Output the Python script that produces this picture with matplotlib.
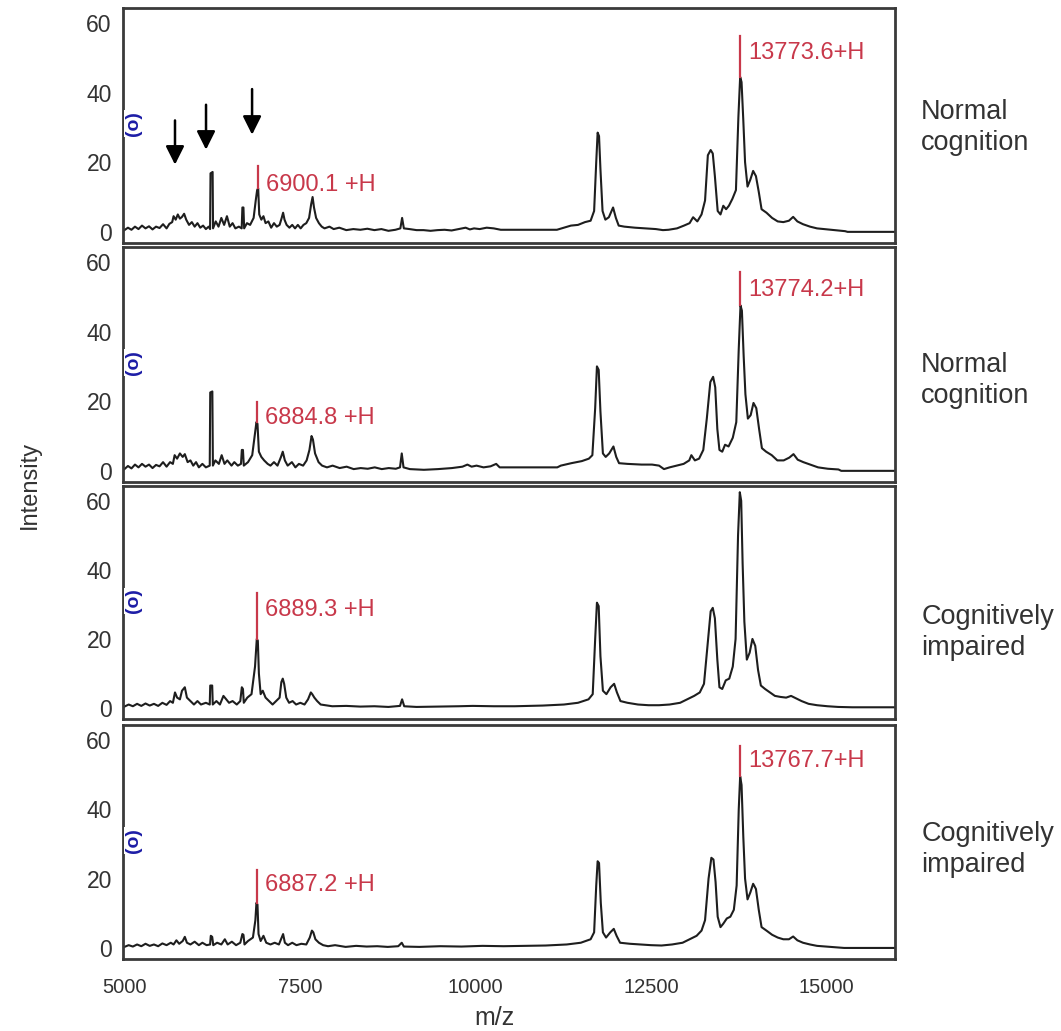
import matplotlib
matplotlib.use('Agg')
import matplotlib.pyplot as plt
import matplotlib.transforms as mtransforms

plt.rcParams['font.family'] = ['Liberation Sans', 'DejaVu Sans']

# ── data: (m/z, intensity) ──────────────────────────────────────────────────
SPEC_NC1 = [
    (5000, 0.5), (5050, 1.2), (5100, 0.6), (5150, 1.5), (5200, 0.8), (5250, 1.8), (5300, 1.0),
    (5350, 1.6), (5400, 0.7), (5450, 1.5), (5500, 1.1), (5550, 2.2), (5600, 1.0), (5640, 2.3),
    (5680, 2.8), (5700, 4.5), (5730, 3.5), (5760, 5.0), (5790, 3.8), (5820, 4.3), (5850, 5.2),
    (5880, 3.5), (5920, 2.0), (5960, 2.8), (6000, 1.5), (6040, 2.5), (6080, 1.2), (6120, 1.8),
    (6160, 0.8), (6200, 1.5), (6220, 0.8), (6226, 16.8), (6256, 17.2), (6262, 1.0), (6300, 3.0),
    (6340, 1.5), (6380, 4.0), (6420, 2.0), (6460, 4.5), (6500, 1.5), (6540, 2.5), (6580, 1.0),
    (6630, 1.5), (6670, 1.0), (6680, 7.0), (6695, 7.0), (6705, 1.0), (6745, 2.5), (6790, 2.0),
    (6840, 4.0), (6870, 9.0), (6890, 12.0), (6905, 12.5), (6920, 5.0), (6950, 3.5), (6980, 4.5),
    (7010, 2.5), (7050, 3.0), (7090, 1.2), (7130, 2.5), (7170, 1.5), (7210, 2.0), (7240, 4.0),
    (7260, 5.5), (7280, 3.5), (7310, 2.0), (7350, 1.2), (7390, 2.0), (7430, 1.0), (7470, 2.0),
    (7510, 1.0), (7550, 2.0), (7590, 2.5), (7630, 4.0), (7660, 8.0), (7680, 10.0), (7700, 7.0),
    (7730, 4.0), (7770, 2.5), (7810, 1.5), (7850, 1.0), (7920, 1.5), (7980, 0.8), (8060, 1.2),
    (8160, 0.5), (8260, 0.8), (8360, 0.6), (8460, 0.9), (8560, 0.5), (8660, 0.8), (8760, 0.3),
    (8860, 0.6), (8930, 1.0), (8955, 4.0), (8980, 1.0), (9060, 0.8), (9160, 0.5), (9260, 0.5),
    (9360, 0.3), (9460, 0.5), (9560, 0.6), (9660, 0.4), (9760, 0.8), (9860, 1.2), (9920, 0.7),
    (9980, 1.0), (10060, 0.8), (10160, 1.2), (10260, 1.0), (10360, 0.6), (11160, 0.6),
    (11260, 1.2), (11360, 1.8), (11460, 2.0), (11560, 2.8), (11640, 3.2), (11690, 6.0),
    (11720, 20.0), (11740, 28.5), (11760, 27.5), (11780, 18.0), (11810, 6.0), (11850, 3.5),
    (11900, 4.2), (11960, 7.0), (12000, 4.0), (12040, 1.8), (12120, 1.5), (12270, 1.2),
    (12420, 1.0), (12570, 0.8), (12670, 0.5), (12750, 0.6), (12870, 1.0), (12970, 1.8),
    (13050, 2.5), (13100, 4.2), (13160, 3.0), (13220, 5.0), (13270, 9.0), (13310, 22.0),
    (13350, 23.5), (13380, 22.5), (13410, 16.0), (13450, 6.0), (13490, 5.0), (13530, 7.5),
    (13570, 6.5), (13610, 7.5), (13660, 9.5), (13710, 12.0), (13745, 33.0), (13770, 44.5),
    (13790, 43.0), (13815, 32.0), (13840, 20.0), (13875, 13.0), (13915, 15.0), (13955, 17.5),
    (13995, 16.0), (14035, 11.5), (14075, 6.5), (14145, 5.5), (14225, 4.0), (14305, 3.0),
    (14385, 2.8), (14465, 3.2), (14525, 4.3), (14585, 3.0), (14665, 2.2), (14765, 1.5),
    (14865, 1.0), (14965, 0.8), (15065, 0.6), (15165, 0.4), (15265, 0.2), (15300, 0.0),
    (15975, 0.0),
]

SPEC_NC2 = [
    (5000, 0.5), (5050, 1.4), (5100, 0.7), (5150, 1.8), (5200, 1.0), (5250, 2.0), (5300, 1.2),
    (5350, 1.8), (5400, 0.8), (5450, 1.7), (5500, 1.3), (5550, 2.5), (5600, 1.2), (5650, 2.5),
    (5690, 2.0), (5715, 4.5), (5750, 3.5), (5790, 5.0), (5830, 4.0), (5860, 4.8), (5900, 2.5),
    (5940, 3.0), (5980, 1.5), (6020, 2.5), (6060, 1.0), (6110, 2.0), (6160, 1.0), (6215, 1.5),
    (6222, 22.5), (6252, 22.8), (6260, 1.5), (6295, 3.0), (6345, 2.0), (6385, 4.5), (6425, 2.0),
    (6465, 3.0), (6525, 1.5), (6565, 2.5), (6615, 1.5), (6660, 2.0), (6672, 6.0), (6688, 6.0),
    (6700, 1.5), (6760, 2.5), (6820, 4.5), (6860, 11.0), (6880, 14.0), (6895, 13.5), (6915, 5.5),
    (6950, 4.0), (6990, 3.0), (7040, 2.0), (7080, 1.5), (7130, 2.5), (7180, 1.5), (7230, 4.0),
    (7255, 5.5), (7285, 3.0), (7325, 1.5), (7385, 2.5), (7435, 1.0), (7485, 2.0), (7545, 1.5),
    (7595, 3.0), (7635, 6.0), (7665, 10.0), (7685, 9.0), (7715, 5.0), (7765, 2.5), (7815, 1.5),
    (7885, 1.0), (7965, 1.5), (8065, 0.8), (8165, 1.2), (8265, 0.5), (8365, 0.8), (8465, 0.6),
    (8565, 1.0), (8665, 0.5), (8765, 0.8), (8865, 0.6), (8925, 1.0), (8950, 5.0), (8975, 1.0),
    (9065, 0.5), (9265, 0.3), (9465, 0.5), (9665, 0.8), (9815, 1.2), (9885, 1.8), (9945, 1.2),
    (10015, 1.5), (10115, 1.0), (10215, 1.3), (10295, 2.0), (10345, 1.0), (11165, 1.0),
    (11215, 1.5), (11365, 2.2), (11515, 2.8), (11615, 3.5), (11665, 4.5), (11705, 18.0),
    (11730, 30.0), (11755, 29.0), (11780, 17.0), (11815, 5.0), (11855, 4.0), (11905, 5.0),
    (11965, 7.0), (12005, 4.0), (12045, 2.2), (12165, 2.0), (12365, 1.8), (12515, 1.8),
    (12615, 1.5), (12685, 0.5), (12765, 1.0), (12865, 1.5), (12965, 2.0), (13045, 3.0),
    (13075, 4.5), (13125, 3.0), (13185, 3.5), (13245, 6.0), (13295, 15.0), (13345, 25.5),
    (13385, 27.0), (13415, 24.0), (13445, 12.0), (13475, 6.0), (13515, 5.5), (13555, 7.5),
    (13605, 7.0), (13665, 9.5), (13715, 14.0), (13750, 35.0), (13775, 47.5), (13795, 46.0),
    (13820, 33.0), (13845, 22.0), (13880, 15.0), (13920, 16.0), (13960, 19.5), (14000, 18.0),
    (14040, 12.0), (14080, 6.5), (14140, 5.5), (14220, 4.5), (14300, 3.0), (14390, 3.0),
    (14470, 3.8), (14530, 4.8), (14590, 3.2), (14670, 2.5), (14770, 1.8), (14880, 1.0),
    (15020, 0.6), (15170, 0.4), (15210, 0.0), (15975, 0.0),
]

SPEC_CI1 = [
    (5000, 0.4), (5060, 1.0), (5120, 0.5), (5180, 1.2), (5240, 0.6), (5300, 1.3), (5360, 0.7),
    (5420, 1.2), (5480, 0.6), (5540, 1.5), (5600, 0.9), (5650, 2.0), (5690, 1.5), (5720, 4.5),
    (5750, 3.0), (5790, 2.5), (5820, 5.0), (5860, 6.0), (5890, 3.0), (5940, 2.0), (5990, 1.0),
    (6040, 2.0), (6090, 1.0), (6160, 1.5), (6215, 1.0), (6222, 6.5), (6250, 6.5), (6258, 1.0),
    (6310, 2.0), (6360, 1.0), (6410, 3.5), (6450, 2.5), (6490, 1.5), (6540, 2.0), (6600, 1.0),
    (6650, 2.0), (6672, 6.0), (6688, 5.5), (6700, 1.5), (6750, 3.0), (6810, 4.0), (6860, 12.0),
    (6885, 20.0), (6900, 19.5), (6915, 10.0), (6940, 4.0), (6970, 5.0), (7010, 3.0), (7060, 2.0),
    (7110, 1.0), (7160, 2.0), (7210, 3.0), (7235, 7.5), (7255, 8.5), (7275, 7.0), (7305, 3.0),
    (7345, 1.5), (7395, 2.0), (7445, 1.0), (7505, 1.5), (7565, 1.0), (7615, 2.5), (7655, 4.5),
    (7675, 4.0), (7705, 3.0), (7745, 2.0), (7795, 1.0), (7860, 0.8), (7960, 0.5), (8160, 0.6),
    (8360, 0.4), (8560, 0.5), (8760, 0.3), (8925, 0.6), (8955, 2.5), (8985, 0.5), (9160, 0.3),
    (9460, 0.4), (9760, 0.5), (9960, 0.6), (10260, 0.5), (10560, 0.5), (10960, 0.7),
    (11260, 1.0), (11460, 1.5), (11610, 2.5), (11670, 4.0), (11705, 20.0), (11730, 30.5),
    (11755, 29.5), (11780, 15.0), (11815, 5.0), (11865, 4.0), (11925, 6.0), (11975, 7.0),
    (12015, 4.5), (12065, 2.0), (12165, 1.5), (12315, 1.0), (12465, 0.8), (12615, 0.8),
    (12765, 1.0), (12915, 1.5), (13015, 2.5), (13115, 3.5), (13195, 4.5), (13255, 7.0),
    (13305, 18.0), (13350, 28.0), (13380, 29.0), (13410, 26.0), (13445, 14.0), (13475, 6.0),
    (13515, 5.5), (13565, 8.0), (13615, 8.5), (13665, 12.0), (13705, 20.0), (13740, 50.0),
    (13765, 62.5), (13785, 60.0), (13805, 42.0), (13830, 25.0), (13865, 14.0), (13905, 16.0),
    (13945, 20.0), (13985, 18.0), (14025, 11.0), (14065, 6.5), (14125, 5.5), (14195, 4.5),
    (14265, 3.5), (14345, 3.2), (14425, 3.0), (14495, 3.5), (14565, 2.8), (14645, 2.0),
    (14745, 1.2), (14865, 0.8), (15015, 0.5), (15165, 0.3), (15365, 0.2), (15975, 0.2),
]

SPEC_CI2 = [
    (5000, 0.3), (5060, 0.8), (5120, 0.4), (5180, 1.0), (5240, 0.5), (5300, 1.2), (5360, 0.6),
    (5420, 1.0), (5480, 0.5), (5540, 1.3), (5600, 0.8), (5660, 1.5), (5700, 1.0), (5740, 2.2),
    (5780, 1.2), (5830, 2.0), (5860, 3.2), (5890, 1.5), (5940, 1.0), (6000, 1.8), (6060, 0.8),
    (6110, 1.5), (6170, 0.8), (6220, 1.0), (6230, 3.5), (6250, 3.2), (6265, 0.8), (6320, 1.5),
    (6380, 1.0), (6430, 2.5), (6470, 1.0), (6530, 1.8), (6590, 0.8), (6650, 1.5), (6680, 4.0),
    (6695, 3.8), (6710, 1.0), (6760, 2.0), (6830, 3.0), (6865, 8.0), (6880, 13.0), (6895, 12.5),
    (6910, 4.0), (6940, 2.0), (6980, 3.5), (7020, 1.5), (7080, 1.0), (7140, 1.5), (7200, 1.0),
    (7240, 3.0), (7260, 4.0), (7285, 1.5), (7330, 0.8), (7390, 1.5), (7450, 0.8), (7520, 1.2),
    (7590, 1.0), (7640, 3.0), (7670, 5.0), (7690, 4.5), (7720, 2.5), (7770, 1.5), (7830, 0.8),
    (7900, 0.5), (8000, 0.8), (8150, 0.3), (8300, 0.6), (8450, 0.4), (8600, 0.5), (8750, 0.3),
    (8900, 0.5), (8950, 1.5), (8980, 0.4), (9200, 0.3), (9500, 0.5), (9800, 0.4), (10100, 0.6),
    (10400, 0.5), (11000, 0.7), (11300, 1.0), (11500, 1.5), (11640, 2.5), (11690, 4.5),
    (11720, 18.0), (11740, 25.0), (11760, 24.5), (11785, 13.0), (11815, 4.5), (11860, 3.0),
    (11920, 4.5), (11970, 5.5), (12010, 3.5), (12060, 1.5), (12200, 1.2), (12350, 1.0),
    (12500, 0.8), (12650, 0.7), (12800, 1.0), (12950, 1.5), (13050, 2.5), (13150, 3.5),
    (13220, 5.0), (13270, 8.0), (13320, 20.0), (13360, 26.0), (13390, 25.5), (13420, 19.0),
    (13450, 9.0), (13490, 6.0), (13530, 7.0), (13580, 8.5), (13630, 9.0), (13680, 11.0),
    (13720, 18.0), (13750, 40.0), (13770, 49.5), (13790, 47.0), (13815, 32.0), (13840, 20.0),
    (13875, 14.0), (13915, 16.0), (13955, 18.5), (13995, 17.0), (14035, 11.0), (14075, 6.0),
    (14145, 5.0), (14225, 3.8), (14305, 3.0), (14385, 2.5), (14465, 2.5), (14525, 3.3),
    (14585, 2.2), (14665, 1.5), (14765, 1.0), (14865, 0.6), (15000, 0.4), (15150, 0.2),
    (15250, 0.0), (15975, 0.0),
]

SPECTRA = [SPEC_NC1, SPEC_NC2, SPEC_CI1, SPEC_CI2]
GROUPS = ["Normal\ncognition", "Normal\ncognition", "Cognitively\nimpaired", "Cognitively\nimpaired"]
GROUP_Y = [0.49, 0.43, 0.37, 0.47]   # vertical position of the side text (axes fraction)

# labelled peaks per panel: (m/z, line bottom, line top, label, label y)
PEAK_LABELS = [
    [(6900.1, 12.5, 18.8, "6900.1 +H", 13.5), (13773.6, 44.5, 56.3, "13773.6+H", 51.4)],
    [(6884.8, 14.0, 19.8, "6884.8 +H", 15.2), (13774.2, 47.5, 57.2, "13774.2+H", 52.0)],
    [(6889.3, 20.0, 33.3, "6889.3 +H", 28.4)],
    [(6887.2, 13.0, 22.4, "6887.2 +H", 18.1), (13767.7, 49.5, 58.3, "13767.7+H", 54.0)],
]

ARROW_MZ = [5720, 6162, 6818]
ARROW_TAIL = [32.0, 36.5, 41.0]
ARROW_TIP = [19.3, 23.6, 27.9]

MARKER_Y = 31
X_TICKS = [5000, 7500, 10000, 12500, 15000]
Y_TICKS = [0, 20, 40, 60]
XLIM = (4979, 15975)
YLIM = (-3.2, 64.3)

RED = '#c8384a'
BLUE = '#1c1ca6'

# panel rectangles in figure fraction (left, bottom, width, height)
PANELS = [
    (0.1159, 0.7643, 0.7276, 0.2280),
    (0.1159, 0.5325, 0.7276, 0.2280),
    (0.1159, 0.3026, 0.7276, 0.2260),
    (0.1159, 0.0698, 0.7276, 0.2270),
]

fig = plt.figure(figsize=(10.61, 10.31), dpi=100, facecolor='white')

for i, spec in enumerate(SPECTRA):
    ax = fig.add_axes(PANELS[i])
    mz = [p[0] for p in spec]
    inten = [p[1] for p in spec]
    ax.plot(mz, inten, color='#1e1e1e', lw=1.5, zorder=2)

    ax.set_xlim(*XLIM)
    ax.set_ylim(*YLIM)
    ax.set_yticks(Y_TICKS)
    ax.set_xticks(X_TICKS)
    ax.tick_params(length=0, labelsize=16.5, pad=8, colors='#333333')
    ax.tick_params(axis='x', labelsize=14.5, pad=14)
    if i < len(SPECTRA) - 1:
        ax.set_xticklabels([])
    for s in ax.spines.values():
        s.set_linewidth(2.0)
        s.set_color('#3a3a3a')

    # red peak markers + labels
    for m, y0, y1, txt, ty in PEAK_LABELS[i]:
        ax.plot([m, m], [y0, y1], color=RED, lw=1.6, zorder=3)
        ax.text(m + 115, ty, txt, color=RED, fontsize=17, va='center', ha='left')

    # blue marker on the left spine
    trans = mtransforms.blended_transform_factory(ax.transAxes, ax.transData)
    ax.text(0.002, MARKER_Y, "(o)", rotation=90, ha='left', va='center', transform=trans,
            color=BLUE, fontsize=14, fontweight='bold', zorder=5, clip_on=False,
            bbox=dict(boxstyle='square,pad=0.05', fc='white', ec='none'))

    # side text
    ax.text(1.034, GROUP_Y[i], GROUPS[i], transform=ax.transAxes, ha='left', va='center',
            fontsize=19.5, color='#333333', linespacing=1.25)

    if i == 0:
        for xa, yt, yh in zip(ARROW_MZ, ARROW_TAIL, ARROW_TIP):
            ax.annotate('', xy=(xa, yh), xytext=(xa, yt),
                        arrowprops=dict(arrowstyle='-|>', color='black', lw=1.8,
                                        mutation_scale=28, shrinkA=0, shrinkB=0))

fig.text(0.028, 0.53, "Intensity", rotation=90, ha='center', va='center',
         fontsize=17, color='#333333')
fig.text(0.466, 0.013, "m/z", ha='center', va='center', fontsize=18, color='#333333')

plt.savefig('out.png', dpi=100, facecolor='white')
plt.close(fig)
